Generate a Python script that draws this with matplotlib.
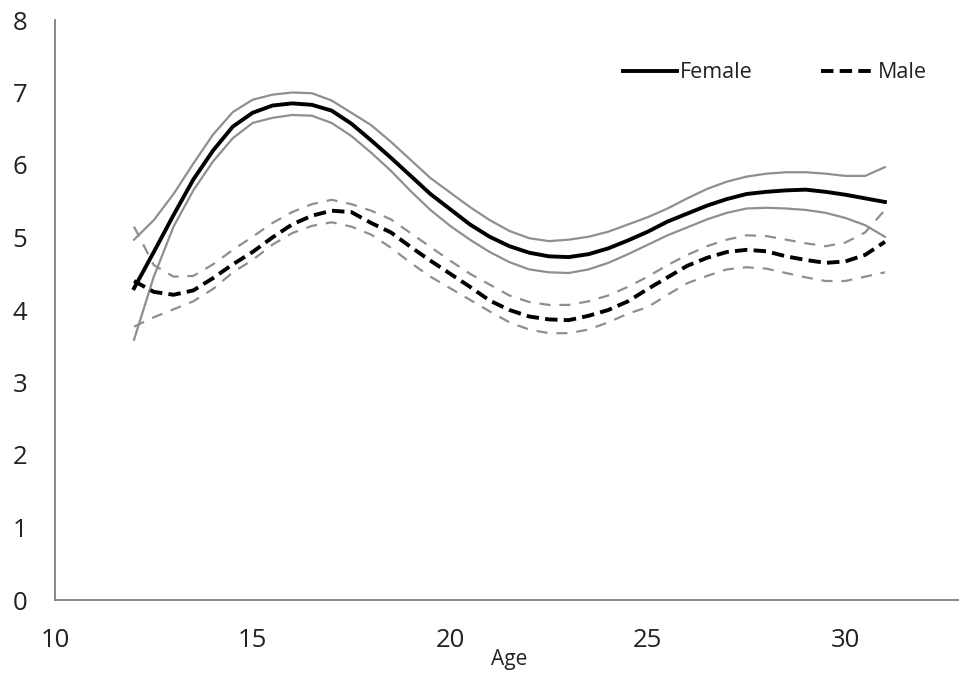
import numpy as np
import matplotlib
matplotlib.use("Agg")
import matplotlib.pyplot as plt

plt.rcParams['font.family'] = ['Open Sans', 'DejaVu Sans']

# ages (half-year steps)
age = [12, 12.5, 13, 13.5, 14, 14.5, 15, 15.5, 16, 16.5, 17, 17.5, 18, 18.5, 19, 19.5,
       20, 20.5, 21, 21.5, 22, 22.5, 23, 23.5, 24, 24.5, 25, 25.5, 26, 26.5, 27, 27.5,
       28, 28.5, 29, 29.5, 30, 30.5, 31]

# female estimate and band
female = [4.30, 4.80, 5.31, 5.80, 6.20, 6.53, 6.72, 6.82, 6.85, 6.83, 6.75, 6.57, 6.34,
          6.10, 5.85, 5.60, 5.39, 5.18, 5.01, 4.88, 4.79, 4.74, 4.73, 4.77, 4.85, 4.96,
          5.08, 5.22, 5.33, 5.44, 5.53, 5.60, 5.63, 5.65, 5.66, 5.63, 5.59, 5.54, 5.49]
female_hi = [4.97, 5.24, 5.60, 6.02, 6.42, 6.73, 6.90, 6.97, 7.00, 6.99, 6.89, 6.72, 6.55,
             6.32, 6.07, 5.82, 5.62, 5.42, 5.24, 5.09, 4.99, 4.95, 4.97, 5.01, 5.08, 5.18,
             5.28, 5.40, 5.54, 5.67, 5.77, 5.84, 5.88, 5.90, 5.90, 5.88, 5.85, 5.85, 5.97]
female_lo = [3.59, 4.46, 5.15, 5.65, 6.05, 6.37, 6.58, 6.65, 6.69, 6.68, 6.58, 6.40, 6.17,
             5.92, 5.64, 5.38, 5.16, 4.97, 4.80, 4.66, 4.56, 4.52, 4.51, 4.56, 4.65, 4.77,
             4.90, 5.03, 5.14, 5.25, 5.34, 5.40, 5.41, 5.40, 5.38, 5.34, 5.27, 5.17, 5.01]

# male estimate and band
male = [4.40, 4.25, 4.21, 4.27, 4.44, 4.63, 4.80, 5.00, 5.18, 5.30, 5.37, 5.35, 5.20,
        5.07, 4.87, 4.68, 4.50, 4.32, 4.13, 4.00, 3.91, 3.87, 3.86, 3.92, 4.00, 4.12,
        4.29, 4.45, 4.61, 4.72, 4.80, 4.83, 4.81, 4.74, 4.69, 4.65, 4.67, 4.76, 4.94]
male_hi = [5.15, 4.62, 4.46, 4.47, 4.63, 4.83, 5.01, 5.20, 5.35, 5.46, 5.52, 5.46, 5.37,
           5.25, 5.06, 4.87, 4.68, 4.50, 4.35, 4.20, 4.11, 4.07, 4.07, 4.12, 4.20, 4.32,
           4.46, 4.62, 4.76, 4.88, 4.97, 5.03, 5.02, 4.97, 4.92, 4.88, 4.93, 5.07, 5.38]
male_lo = [3.77, 3.90, 4.01, 4.12, 4.29, 4.52, 4.69, 4.90, 5.06, 5.16, 5.21, 5.15, 5.04,
           4.86, 4.65, 4.46, 4.30, 4.14, 3.98, 3.83, 3.73, 3.68, 3.68, 3.73, 3.83, 3.95,
           4.04, 4.21, 4.37, 4.47, 4.56, 4.59, 4.57, 4.51, 4.45, 4.40, 4.40, 4.46, 4.52]

W, H = 959, 677
fig = plt.figure(figsize=(W / 100, H / 100), dpi=100)
ax = fig.add_axes([55 / W, (H - 600) / H, (958 - 55) / W, 580 / H])

gray = '#8f8f8f'
ax.plot(age, female_hi, color=gray, lw=1.6)
ax.plot(age, female_lo, color=gray, lw=1.6)
ax.plot(age, male_hi, color=gray, lw=1.6, dashes=(5, 4))
ax.plot(age, male_lo, color=gray, lw=1.6, dashes=(5, 4))
ax.plot(age, female, color='black', lw=2.8, label='Female', solid_joinstyle='round')
ax.plot(age, male, color='black', lw=2.8, dashes=(3.2, 1.6), label='Male')

ax.set_xlim(10, 32.85)
ax.set_ylim(0, 8)
ax.set_xticks([10, 15, 20, 25, 30])
ax.set_yticks(range(0, 9))
ax.tick_params(length=0, labelsize=18.5, colors='#222222')
ax.tick_params(axis='x', pad=20)
ax.tick_params(axis='y', pad=20)
for s in ['top', 'right']:
    ax.spines[s].set_visible(False)
for s in ['left', 'bottom']:
    ax.spines[s].set_color('#7f7f7f')
    ax.spines[s].set_linewidth(1.3)

fig.text(509 / W, 1 - 659 / H, 'Age', ha='center', va='center', fontsize=15, color='#222222')

leg = ax.legend(ncol=2, frameon=False, fontsize=15.5, handlelength=2.5, handletextpad=0.12,
                columnspacing=3.2, loc='center left',
                bbox_to_anchor=(623 / W, 1 - 73 / H), bbox_transform=fig.transFigure,
                borderaxespad=0, borderpad=0)
for t in leg.get_texts():
    t.set_color('#222222')

fig.savefig('out.png', dpi=100)
